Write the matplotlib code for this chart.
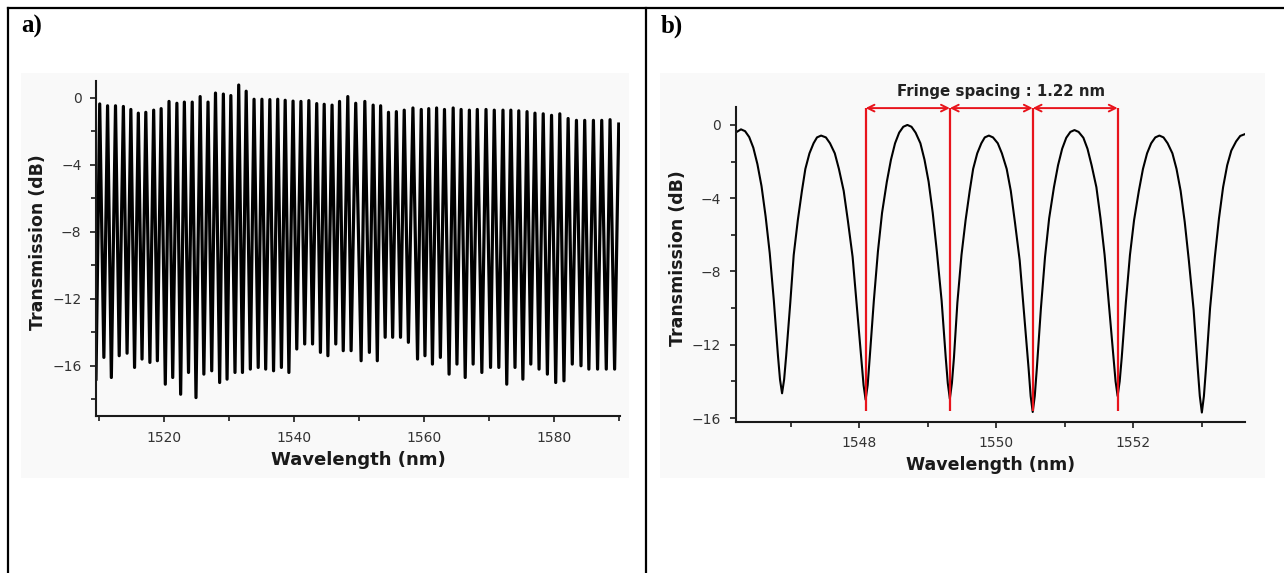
import matplotlib
matplotlib.use("Agg")
import matplotlib.pyplot as plt
import numpy as np
from matplotlib.lines import Line2D
from matplotlib.patches import Rectangle
from matplotlib.ticker import MultipleLocator

# ---------------- data : panel a (broadband transmission spectrum) ----------------
a_dip_wl = [1509.60, 1510.81, 1511.96, 1513.17, 1514.38, 1515.53, 1516.68, 1517.89, 1519.04, 1520.26,
            1521.40, 1522.62, 1523.83, 1524.98, 1526.19, 1527.40, 1528.62, 1529.76, 1530.98, 1532.13,
            1533.34, 1534.55, 1535.70, 1536.91, 1538.12, 1539.27, 1540.48, 1541.70, 1542.91, 1544.12,
            1545.27, 1546.48, 1547.63, 1548.84, 1550.38, 1551.65, 1552.87, 1554.08, 1555.23, 1556.44,
            1557.65, 1559.06, 1560.20, 1561.35, 1562.57, 1563.91, 1565.12, 1566.39, 1567.61, 1568.95,
            1570.29, 1571.56, 1572.78, 1574.05, 1575.26, 1576.48, 1577.75, 1579.03, 1580.31, 1581.58,
            1582.86, 1584.20, 1585.41, 1586.75, 1588.09, 1589.37]
a_dip_db = [-16.8, -15.5, -16.7, -15.4, -15.25, -16.1, -15.6, -15.8, -15.7, -17.1,
            -16.7, -17.7, -16.4, -17.9, -16.5, -16.3, -17.0, -16.8, -16.4, -16.4,
            -16.2, -16.1, -16.2, -16.3, -16.1, -16.4, -15.0, -14.7, -14.7, -15.2,
            -15.4, -14.7, -15.1, -15.1, -15.7, -15.2, -15.7, -14.3, -14.3, -14.3,
            -14.6, -15.6, -15.4, -15.9, -15.5, -16.5, -15.9, -16.7, -15.9, -16.4,
            -16.1, -16.1, -17.1, -16.1, -16.8, -15.9, -16.2, -16.5, -17.0, -16.9,
            -15.9, -16.0, -16.2, -16.2, -16.2, -16.2]
a_peak_wl = [1510.17, 1511.38, 1512.60, 1513.81, 1514.96, 1516.11, 1517.26, 1518.47, 1519.62, 1520.83,
             1522.04, 1523.19, 1524.40, 1525.62, 1526.83, 1527.98, 1529.19, 1530.34, 1531.55, 1532.70,
             1533.91, 1535.12, 1536.34, 1537.55, 1538.70, 1539.91, 1541.12, 1542.34, 1543.55, 1544.70,
             1545.91, 1547.06, 1548.33, 1549.55, 1550.95, 1552.23, 1553.38, 1554.59, 1555.80, 1557.01,
             1558.35, 1559.63, 1560.78, 1561.99, 1563.20, 1564.54, 1565.76, 1567.03, 1568.25, 1569.59,
             1570.86, 1572.20, 1573.41, 1574.63, 1575.90, 1577.12, 1578.39, 1579.67, 1580.94, 1582.22,
             1583.50, 1584.77, 1586.11, 1587.39, 1588.67, 1590.01]
a_peak_db = [-0.37, -0.48, -0.48, -0.52, -0.70, -0.92, -0.87, -0.74, -0.65, -0.22,
             -0.33, -0.26, -0.26, 0.07, -0.26, 0.28, 0.22, 0.13, 0.76, 0.39,
             -0.09, -0.09, -0.11, -0.09, -0.15, -0.20, -0.22, -0.17, -0.35, -0.39,
             -0.44, -0.22, 0.07, -0.33, -0.22, -0.44, -0.48, -0.87, -0.83, -0.74,
             -0.61, -0.70, -0.65, -0.61, -0.70, -0.61, -0.70, -0.74, -0.70, -0.70,
             -0.74, -0.74, -0.74, -0.78, -0.83, -0.92, -0.96, -1.05, -0.96, -1.24,
             -1.35, -1.35, -1.35, -1.35, -1.31, -1.57]

# ---------------- data : panel b (zoomed spectrum) ----------------
b_wl = [1546.19, 1546.27, 1546.33, 1546.39, 1546.45, 1546.51, 1546.57, 1546.63, 1546.69, 1546.75,
        1546.81, 1546.84, 1546.87,
        1546.90, 1546.93, 1546.99, 1547.04, 1547.10, 1547.16, 1547.21, 1547.27, 1547.33, 1547.38,
        1547.44,
        1547.51, 1547.57, 1547.64, 1547.70, 1547.77, 1547.83, 1547.90, 1547.96, 1548.03, 1548.06,
        1548.09,
        1548.12, 1548.15, 1548.21, 1548.27, 1548.33, 1548.40, 1548.46, 1548.52, 1548.58, 1548.64,
        1548.70,
        1548.76, 1548.82, 1548.89, 1548.95, 1549.01, 1549.07, 1549.13, 1549.20, 1549.26, 1549.29,
        1549.32,
        1549.35, 1549.38, 1549.43, 1549.49, 1549.55, 1549.61, 1549.66, 1549.72, 1549.78, 1549.83,
        1549.89,
        1549.95, 1550.02, 1550.08, 1550.15, 1550.21, 1550.27, 1550.34, 1550.40, 1550.47, 1550.50,
        1550.53,
        1550.56, 1550.59, 1550.65, 1550.71, 1550.77, 1550.84, 1550.90, 1550.96, 1551.02, 1551.08,
        1551.14,
        1551.20, 1551.27, 1551.33, 1551.39, 1551.46, 1551.52, 1551.58, 1551.64, 1551.71, 1551.74,
        1551.77,
        1551.80, 1551.83, 1551.89, 1551.95, 1552.01, 1552.08, 1552.14, 1552.20, 1552.26, 1552.32,
        1552.38,
        1552.44, 1552.50, 1552.57, 1552.63, 1552.69, 1552.75, 1552.81, 1552.88, 1552.94, 1552.97,
        1553.00,
        1553.03, 1553.06, 1553.12, 1553.19, 1553.25, 1553.31, 1553.37, 1553.43, 1553.50, 1553.56,
        1553.63]
b_db = [-0.42, -0.24, -0.34, -0.66, -1.24, -2.14, -3.34, -5.0, -7.0, -9.6,
        -12.6, -13.9, -14.65,
        -13.9, -12.6, -9.7, -7.1, -5.2, -3.6, -2.4, -1.55, -1.0, -0.68,
        -0.58,
        -0.68, -1.0, -1.55, -2.4, -3.6, -5.2, -7.2, -9.8, -12.8, -14.2,
        -15.0,
        -14.2, -12.7, -9.6, -6.9, -4.8, -3.1, -1.9, -1.0, -0.42, -0.1,
        0.0,
        -0.1, -0.42, -1.0, -1.9, -3.1, -4.8, -6.9, -9.6, -12.7, -14.1,
        -14.95,
        -14.1, -12.7, -9.7, -7.1, -5.2, -3.6, -2.4, -1.55, -1.0, -0.68,
        -0.58,
        -0.68, -1.0, -1.55, -2.4, -3.6, -5.3, -7.4, -10.1, -13.3, -14.8,
        -15.67,
        -14.8, -13.3, -10.0, -7.2, -5.1, -3.4, -2.2, -1.3, -0.7, -0.38,
        -0.28,
        -0.38, -0.7, -1.3, -2.2, -3.4, -5.1, -7.1, -9.7, -12.7, -14.0,
        -14.8,
        -14.0, -12.7, -9.7, -7.1, -5.2, -3.6, -2.4, -1.55, -1.0, -0.68,
        -0.58,
        -0.68, -1.0, -1.55, -2.4, -3.6, -5.3, -7.4, -10.1, -13.3, -14.8,
        -15.7,
        -14.8, -13.3, -10.0, -7.2, -5.1, -3.4, -2.2, -1.4, -0.9, -0.6,
        -0.5]

b_marker_wl = [1548.09, 1549.32, 1550.53, 1551.77]
b_marker_bottom = -15.6
b_marker_top = 0.92
annotation_text = "Fringe spacing : 1.22 nm"
annotation_x = 1550.07
annotation_y = 1.6

a_xticks = [1520, 1540, 1560, 1580]
a_yticks = [0, -4, -8, -12, -16]
b_xticks = [1548, 1550, 1552]
b_yticks = [0, -4, -8, -12, -16]

# ---------------- figure ----------------
W, H = 1284, 573
fig = plt.figure(figsize=(W / 100, H / 100), dpi=100)
fig.patch.set_facecolor("white")


def fx(px):
    return px / W


def fy(py):
    return 1 - py / H


# faint backgrounds of the pasted plot images
for x0, x1 in [(21, 629), (660, 1265)]:
    fig.add_artist(Rectangle((fx(x0), fy(478)), fx(x1) - fx(x0), fy(73) - fy(478),
                             transform=fig.transFigure, facecolor="#f9f9f9", edgecolor="none",
                             zorder=-5))

# table borders
for xs, ys in [([fx(8), 1.0], [fy(8), fy(8)]),
               ([fx(8), fx(8)], [fy(8), 0.0]),
               ([fx(646), fx(646)], [fy(8), 0.0])]:
    fig.add_artist(Line2D(xs, ys, transform=fig.transFigure, color="black", lw=1.6))

fig.text(fx(21), fy(15), "a)", family="Liberation Serif", weight="bold", fontsize=18, va="top", ha="left")
fig.text(fx(661), fy(15), "b)", family="Liberation Serif", weight="bold", fontsize=18, va="top", ha="left")


def style(ax):
    ax.set_facecolor("none")
    for s in ["top", "right"]:
        ax.spines[s].set_visible(False)
    for s in ["left", "bottom"]:
        ax.spines[s].set_linewidth(1.5)
        ax.spines[s].set_color("#1a1a1a")
    ax.tick_params(which="major", direction="out", length=4.5, width=1.2, color="#1a1a1a",
                   labelcolor="#333333", labelsize=10, pad=6)
    ax.tick_params(which="minor", direction="out", length=3.5, width=1.2, color="#1a1a1a")


# ---------- panel a ----------
axa = fig.add_axes([fx(96), fy(416), fx(620) - fx(96), fy(81) - fy(416)])
style(axa)
wl_a = np.array(a_dip_wl + a_peak_wl)
db_a = np.array(a_dip_db + a_peak_db)
order = np.argsort(wl_a)
axa.plot(wl_a[order], db_a[order], color="black", lw=2.3, solid_joinstyle="round")
axa.set_xlim(1509.6, 1590.2)
axa.set_ylim(-19.0, 1.0)
axa.set_xticks(a_xticks)
axa.set_yticks(a_yticks)
axa.xaxis.set_minor_locator(MultipleLocator(10))
axa.yaxis.set_minor_locator(MultipleLocator(2))
axa.set_xlabel("Wavelength (nm)", fontsize=13, weight="bold", color="#1a1a1a")
axa.set_ylabel("Transmission (dB)", fontsize=12.5, weight="bold", color="#1a1a1a")
axa.xaxis.set_label_coords(0.5, -0.105)
axa.yaxis.set_label_coords(-0.094, 0.52)

# ---------- panel b ----------
axb = fig.add_axes([fx(735.5), fy(421.5), fx(1245) - fx(735.5), fy(107) - fy(421.5)])
style(axb)
axb.plot(b_wl, b_db, color="black", lw=1.5, solid_joinstyle="round")
axb.set_xlim(1546.19, 1553.63)
axb.set_ylim(-16.19, 0.98)
axb.set_xticks(b_xticks)
axb.set_yticks(b_yticks)
axb.xaxis.set_minor_locator(MultipleLocator(1))
axb.yaxis.set_minor_locator(MultipleLocator(2))
axb.set_xlabel("Wavelength (nm)", fontsize=12.5, weight="bold", color="#1a1a1a")
axb.set_ylabel("Transmission (dB)", fontsize=12.5, weight="bold", color="#1a1a1a")
axb.xaxis.set_label_coords(0.5, -0.11)
axb.yaxis.set_label_coords(-0.095, 0.52)

red = "#e8141c"
axb.vlines(b_marker_wl, b_marker_bottom, b_marker_top, color=red, lw=1.6, zorder=3)
for x0, x1 in zip(b_marker_wl[:-1], b_marker_wl[1:]):
    axb.annotate("", xy=(x1, b_marker_top), xytext=(x0, b_marker_top),
                 arrowprops=dict(arrowstyle="<->", color=red, lw=1.4, mutation_scale=12,
                                 shrinkA=0, shrinkB=0), annotation_clip=False)
axb.text(annotation_x, annotation_y, annotation_text,
         ha="center", va="baseline", fontsize=10.8, weight="bold", color="#222222", clip_on=False)

fig.savefig("out.png", dpi=100)
